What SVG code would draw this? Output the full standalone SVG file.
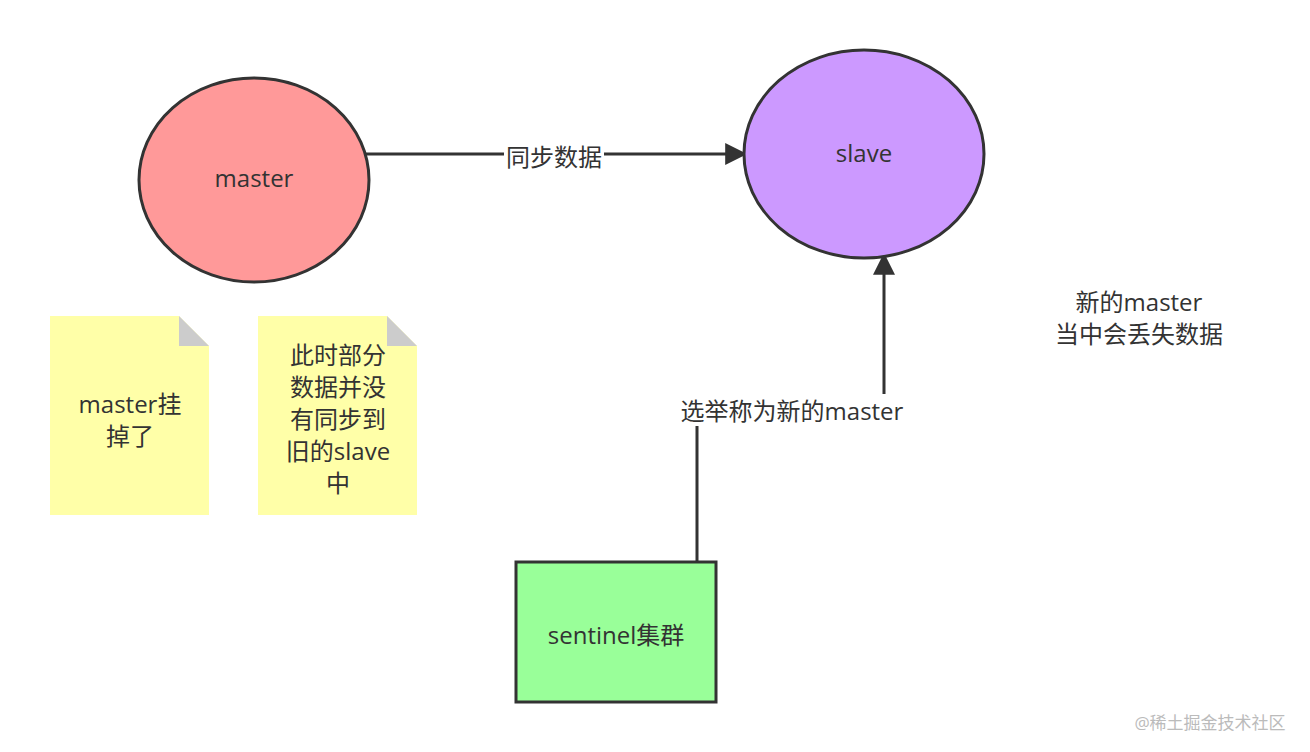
<svg xmlns="http://www.w3.org/2000/svg" width="1310" height="752" viewBox="0 0 1310 752">
<style>
text{font-family:"Open Sans","Noto Sans CJK SC",sans-serif;font-size:24px;fill:#333;text-anchor:middle}
.n{stroke:#333;stroke-width:3}
.e{stroke:#333;stroke-width:3;fill:none}
</style>
<defs><marker id="b" viewBox="0 0 10 10" refX="9" refY="5" markerWidth="30" markerHeight="22" markerUnits="userSpaceOnUse" orient="auto"><path d="M0,0 L10,5 L0,10 Z" fill="#333"/></marker></defs>
<rect width="1310" height="752" fill="#fff"/>
<g id="connectors">
<path class="e" d="M363,154 H745" marker-end="url(#b)"/>
<path class="e" d="M697,561 V411 H884 V255" marker-end="url(#b)"/>
<rect x="504" y="142" width="100" height="28" fill="#fff"/>
<text x="554" y="166">同步数据</text>
<rect x="672" y="394" width="240" height="32" fill="#fff"/>
<text x="792" y="420">选举称为新的master</text>
</g>
<g id="master"><ellipse class="n" cx="254" cy="180" rx="115" ry="102" fill="#ff9999"/><text x="254" y="187">master</text></g>
<g id="slave"><ellipse class="n" cx="864" cy="154" rx="120" ry="104" fill="#cc99ff"/><text x="864" y="162">slave</text></g>
<g id="sentinel"><rect class="n" x="516" y="562" width="200" height="140" fill="#99ff99"/><text x="616" y="644">sentinel集群</text></g>
<g id="note1"><path d="M50,316 H179 L209,346 V515 H50 Z" fill="#ffff99" opacity="0.85"/><path d="M179,316 V346 H209 Z" fill="#ccc"/><text x="130" y="413">master挂</text><text x="130" y="445">掉了</text></g>
<g id="note2"><path d="M258,316 H387 L417,346 V515 H258 Z" fill="#ffff99" opacity="0.85"/><path d="M387,316 V346 H417 Z" fill="#ccc"/>
<text x="338" y="364">此时部分</text><text x="338" y="396">数据并没</text><text x="338" y="428">有同步到</text><text x="338" y="460">旧的slave</text><text x="338" y="492">中</text></g>
<g id="label"><text x="1139" y="311">新的master</text><text x="1139" y="343">当中会丢失数据</text></g>
<text x="1210" y="729" style="font-size:17px;fill:#bbb">@稀土掘金技术社区</text>
</svg>
